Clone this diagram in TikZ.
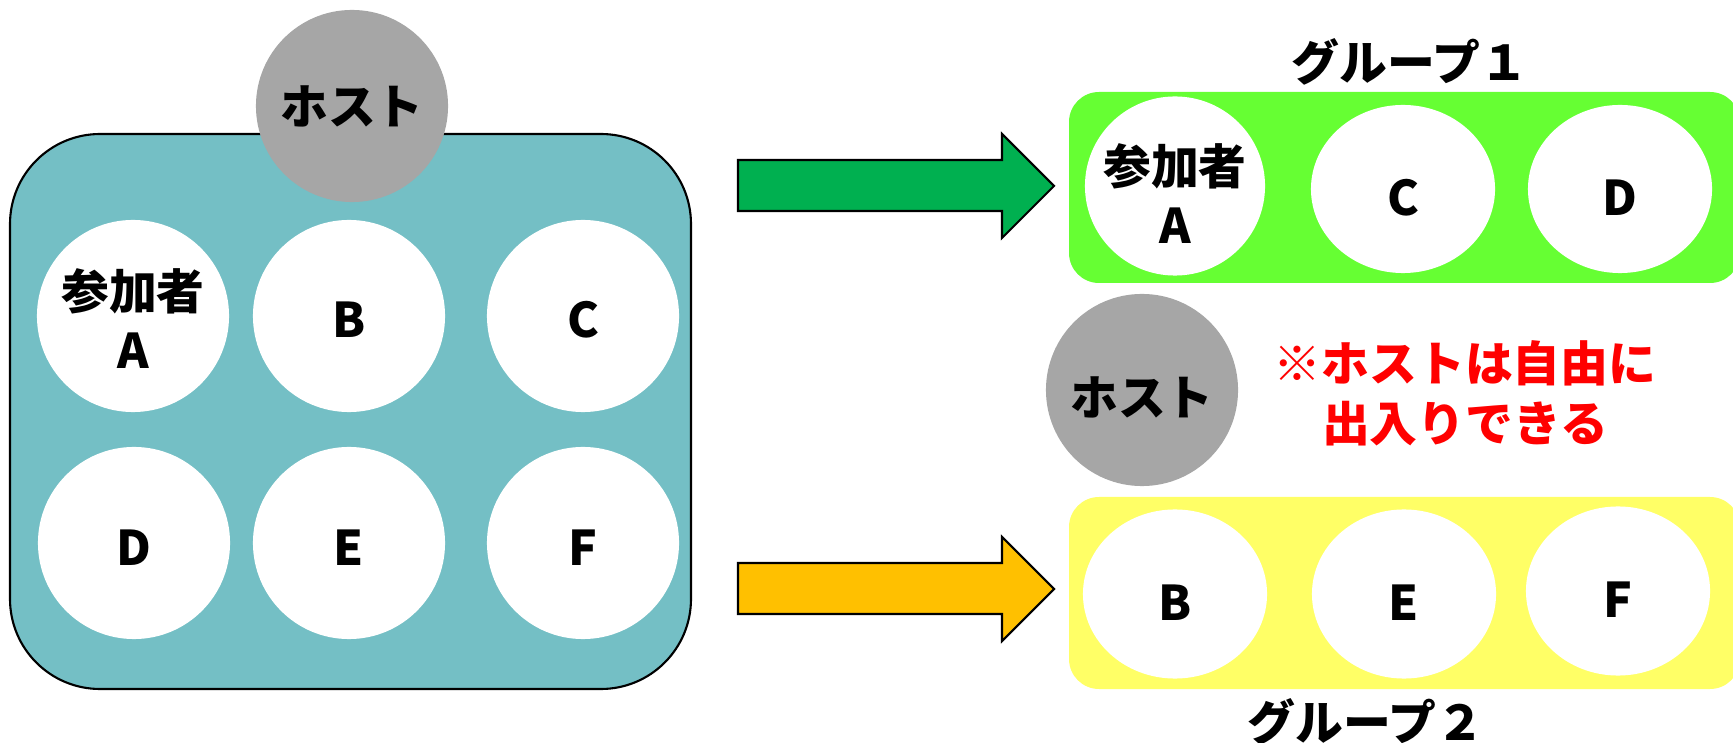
\documentclass[tikz,border=0pt]{standalone}
\usepackage{fontspec}
\setmainfont{Noto Sans CJK JP}
\usetikzlibrary{shapes.geometric, positioning}

\definecolor{roomcol}{HTML}{74BFC5}
\definecolor{hostgray}{HTML}{A6A6A6}
\definecolor{grponecol}{HTML}{66FF33}
\definecolor{grptwocol}{HTML}{FFFF66}
\definecolor{arrowgreen}{HTML}{00B050}
\definecolor{arrowgold}{HTML}{FFC000}
\definecolor{notered}{HTML}{FF0000}

\tikzset{
  bigtext/.style={font=\bfseries\fontsize{13.6}{17}\selectfont},
  member/.style={ellipse, fill=white, inner sep=-0.5cm, align=center, bigtext},
  lowered/.style={text height=#1, text depth=0pt},
  hostnode/.style={circle, fill=hostgray, minimum size=1.92cm, inner sep=0pt, bigtext},
  blockarrow/.style={line width=0.6pt, draw=black}
}

\begin{document}
\begin{tikzpicture}[x=0.01cm, y=-0.01cm]
                \useasboundingbox (0,0) rectangle (1733,743);
                % Room with everyone
                \draw[fill=roomcol, line width=0.6pt, rounded corners=0.9cm] (10,134) rectangle (691,689);
                \node[hostnode] (host) at (352,106) {ホスト};
                \node[member, minimum width=1.92cm, minimum height=1.92cm] (pA) at (133,316) {\rule{0pt}{0.46cm}参加者\\A};
                \node[member, minimum width=1.92cm, minimum height=1.92cm, lowered=0.43cm] (pB) at (349,316) {B};
                \node[member, minimum width=1.92cm, minimum height=1.92cm, lowered=0.43cm] (pC) at (583,316) {C};
                \node[member, minimum width=1.92cm, minimum height=1.92cm, lowered=0.45cm] (pD) at (134,543) {D};
                \node[member, minimum width=1.92cm, minimum height=1.92cm, lowered=0.45cm] (pE) at (349,543) {E};
                \node[member, minimum width=1.92cm, minimum height=1.92cm, lowered=0.45cm] (pF) at (583,543) {F};
                % Arrows
                \draw[blockarrow, fill=arrowgreen] (738,160) -- (1002,160) -- (1002,134) -- (1054,186)
                    -- (1002,238) -- (1002,211) -- (738,211) -- cycle;
                \draw[blockarrow, fill=arrowgold] (738,563) -- (1002,563) -- (1002,537) -- (1054,589)
                    -- (1002,641) -- (1002,614) -- (738,614) -- cycle;
                % Group 1
                \fill[grponecol, rounded corners=0.3cm] (1069,92) rectangle (1740,283);
                \node[bigtext] (gone) at (1410,62) {グループ１};
                \node[member, minimum width=1.80cm, minimum height=1.79cm] (gA) at (1175,186) {\rule{0pt}{0.56cm}参加者\\A};
                \node[member, minimum width=1.84cm, minimum height=1.68cm, lowered=0.53cm] (gC) at (1403,189) {C};
                \node[member, minimum width=1.84cm, minimum height=1.68cm, lowered=0.53cm] (gD) at (1620,189) {D};
                % Host outside
                \node[hostnode, lowered=0.50cm] (hosttwo) at (1142,390) {ホスト};
                \node[bigtext, text=notered, align=center] (note) at (1465,393) {※ホストは自由に\\出入りできる};
                % Group 2
                \fill[grptwocol, rounded corners=0.3cm] (1069,497) rectangle (1740,689);
                \node[member, minimum width=1.84cm, minimum height=1.69cm, lowered=0.52cm] (gB) at (1175,594) {B};
                \node[member, minimum width=1.84cm, minimum height=1.69cm, lowered=0.52cm] (gE) at (1404,594) {E};
                \node[member, minimum width=1.84cm, minimum height=1.69cm, lowered=0.53cm] (gF) at (1618,591) {F};
                \node[bigtext] (gtwo) at (1366,722) {グループ２};
            \end{tikzpicture}
\end{document}
